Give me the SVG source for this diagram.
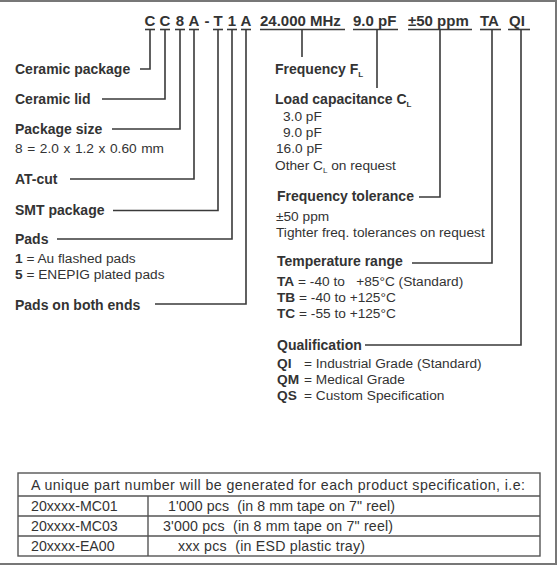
<svg xmlns="http://www.w3.org/2000/svg" width="560" height="566" viewBox="0 0 560 566">
<style>
text{font-family:"Liberation Sans",Arial,sans-serif;fill:#333;}
.b{font-weight:bold;font-size:14px;}
.r{font-size:13.7px;}
.c{font-weight:bold;font-size:15px;}
.t{font-size:14.2px;}
.sub{font-size:8px;font-weight:bold;}
.subr{font-size:8px;}
.ln{fill:none;stroke:#3a3a3a;stroke-width:1.6;}
.ul{stroke:#3a3a3a;stroke-width:1.6;}
.tb{fill:none;stroke:#555;stroke-width:1.4;}
</style>
<rect x="0" y="0" width="560" height="566" fill="#fff"/>
<g id="frame" fill="none" stroke="#777" stroke-width="2">
<line x1="0" y1="1" x2="557" y2="1"/>
<line x1="556" y1="0" x2="556" y2="565"/>
<line x1="0" y1="564" x2="557" y2="564"/>
</g>
<g id="code">
<text class="c" x="150" y="26" text-anchor="middle">C</text>
<text class="c" x="165" y="26" text-anchor="middle">C</text>
<text class="c" x="180" y="26" text-anchor="middle">8</text>
<text class="c" x="194" y="26" text-anchor="middle">A</text>
<text class="c" x="207" y="26" text-anchor="middle">-</text>
<text class="c" x="218" y="26" text-anchor="middle">T</text>
<text class="c" x="232" y="26" text-anchor="middle">1</text>
<text class="c" x="246" y="26" text-anchor="middle">A</text>
<text class="c" x="260" y="26">24.000 MHz</text>
<text class="c" x="353" y="26">9.0 pF</text>
<text class="c" x="408" y="26">±50 ppm</text>
<text class="c" x="480" y="26">TA</text>
<text class="c" x="509" y="26">QI</text>
<g class="ul">
<line x1="145" y1="29.5" x2="155" y2="29.5"/>
<line x1="160" y1="29.5" x2="170" y2="29.5"/>
<line x1="175" y1="29.5" x2="185" y2="29.5"/>
<line x1="189" y1="29.5" x2="199" y2="29.5"/>
<line x1="213" y1="29.5" x2="223" y2="29.5"/>
<line x1="227" y1="29.5" x2="237" y2="29.5"/>
<line x1="241" y1="29.5" x2="251" y2="29.5"/>
<line x1="260" y1="29.5" x2="345" y2="29.5"/>
<line x1="353" y1="29.5" x2="398" y2="29.5"/>
<line x1="408" y1="29.5" x2="472" y2="29.5"/>
<line x1="480" y1="29.5" x2="501" y2="29.5"/>
<line x1="508" y1="29.5" x2="530" y2="29.5"/>
</g>
</g>
<g id="connectors" class="ln">
<polyline points="150,29.5 150,69 140,69"/>
<polyline points="165,29.5 165,99 102,99"/>
<polyline points="180,29.5 180,129 112,129"/>
<polyline points="194,29.5 194,179 70,179"/>
<polyline points="218,29.5 218,210.5 113,210.5"/>
<polyline points="232,29.5 232,239 57,239"/>
<polyline points="246,29.5 246,304 155,304"/>
<line x1="302" y1="29.5" x2="302" y2="57"/>
<line x1="377" y1="29.5" x2="377" y2="88"/>
<polyline points="440,29.5 440,197 419,197"/>
<polyline points="492,29.5 492,263 412,263"/>
<polyline points="521,29.5 521,345 365,345"/>
</g>
<g id="n-ceramic-package"><text class="b" x="15" y="74">Ceramic package</text></g>
<g id="n-ceramic-lid"><text class="b" x="15" y="104">Ceramic lid</text></g>
<g id="n-package-size"><text class="b" x="15" y="134">Package size</text>
<text class="r" x="15" y="153" word-spacing="0.8">8 = 2.0 x 1.2 x 0.60 mm</text></g>
<g id="n-at-cut"><text class="b" x="15" y="184">AT-cut</text></g>
<g id="n-smt"><text class="b" x="15" y="215">SMT package</text></g>
<g id="n-pads"><text class="b" x="15" y="244">Pads</text>
<text class="r" x="15" y="263"><tspan font-weight="bold">1</tspan> = Au flashed pads</text>
<text class="r" x="15" y="279"><tspan font-weight="bold">5</tspan> = ENEPIG plated pads</text></g>
<g id="n-pads-ends"><text class="b" x="15" y="310">Pads on both ends</text></g>
<g id="n-frequency"><text class="b" x="275" y="74">Frequency F<tspan class="sub" dy="3">L</tspan></text></g>
<g id="n-load"><text class="b" x="275" y="104">Load capacitance C<tspan class="sub" dy="3">L</tspan></text>
<text class="r" x="283" y="121">3.0 pF</text>
<text class="r" x="283" y="137">9.0 pF</text>
<text class="r" x="276" y="153">16.0 pF</text>
<text class="r" x="275" y="170">Other C<tspan class="subr" dy="3">L</tspan><tspan dy="-3"> on request</tspan></text></g>
<g id="n-tolerance"><text class="b" x="277" y="201">Frequency tolerance</text>
<text class="r" x="276" y="221">±50 ppm</text>
<text class="r" x="276" y="237">Tighter freq. tolerances on request</text></g>
<g id="n-temp"><text class="b" x="277" y="266">Temperature range</text>
<text class="r" x="277" y="286" xml:space="preserve"><tspan font-weight="bold">TA</tspan> = -40 to   +85°C (Standard)</text>
<text class="r" x="277" y="302"><tspan font-weight="bold">TB</tspan> = -40 to +125°C</text>
<text class="r" x="277" y="318"><tspan font-weight="bold">TC</tspan> = -55 to +125°C</text></g>
<g id="n-qual"><text class="b" x="277" y="350">Qualification</text>
<text class="r" x="277" y="368"><tspan font-weight="bold">QI</tspan><tspan x="304">= Industrial Grade (Standard)</tspan></text>
<text class="r" x="277" y="384"><tspan font-weight="bold">QM</tspan><tspan x="304">= Medical Grade</tspan></text>
<text class="r" x="277" y="400"><tspan font-weight="bold">QS</tspan><tspan x="304">= Custom Specification</tspan></text></g>
<g id="table">
<rect class="tb" x="18" y="473" width="522" height="83"/>
<line class="tb" x1="18" y1="496" x2="540" y2="496"/>
<line class="tb" x1="18" y1="516" x2="540" y2="516"/>
<line class="tb" x1="18" y1="536" x2="540" y2="536"/>
<line class="tb" x1="148" y1="496" x2="148" y2="556"/>
<text class="t" x="31" y="490" textLength="494" lengthAdjust="spacing">A unique part number will be generated for each product specification, i.e:</text>
<text class="t" x="31" y="511">20xxxx-MC01</text>
<text class="t" x="168" y="511" xml:space="preserve" textLength="227" lengthAdjust="spacing">1'000 pcs  (in 8 mm tape on 7" reel)</text>
<text class="t" x="31" y="531">20xxxx-MC03</text>
<text class="t" x="163" y="531" xml:space="preserve" textLength="230" lengthAdjust="spacing">3'000 pcs  (in 8 mm tape on 7" reel)</text>
<text class="t" x="31" y="551">20xxxx-EA00</text>
<text class="t" x="178" y="551" xml:space="preserve" textLength="187" lengthAdjust="spacing">xxx pcs  (in ESD plastic tray)</text>
</g>
</svg>
